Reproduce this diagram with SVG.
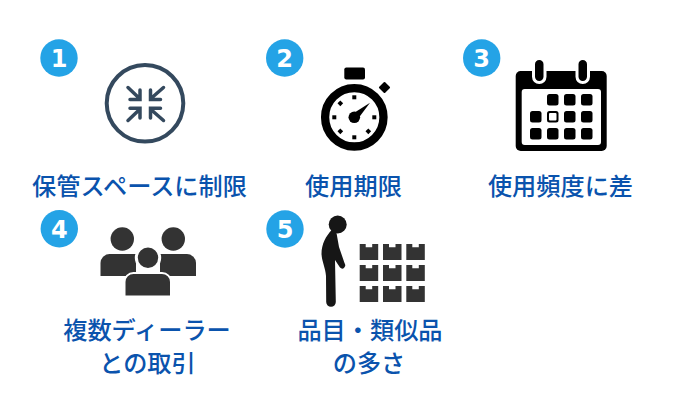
<svg xmlns="http://www.w3.org/2000/svg" width="680" height="400" viewBox="0 0 680 400">
<style>
.b{fill:#24a3e6}
.n{font-family:"DejaVu Sans","Liberation Sans",sans-serif;font-weight:700;font-size:24px;fill:#fff;text-anchor:middle}
.t{font-family:"Noto Sans CJK JP","Noto Sans",sans-serif;font-weight:500;font-size:24.200px;fill:#0a53ad;text-anchor:middle}
.a{fill:none;stroke:#34495e;stroke-width:3.500;stroke-linecap:round;stroke-linejoin:miter}
.d{fill:#333}
.k{fill:#000}
</style>
<rect width="680" height="400" fill="#fff"/>
<g id="node-1">
<circle class="b" cx="59" cy="58" r="18.700"/><text class="n" x="59" y="67">1</text>
<circle cx="145" cy="103.300" r="38.300" fill="none" stroke="#34495e" stroke-width="4"/>
<g class="a">
<path d="M128 87.500L139 98M130 99.500H140V90"/>
<path d="M163.500 87.500L151.500 98M160.500 99.500H150.500V90"/>
<path d="M128 120.500L139 110M130 108.300H140V118"/>
<path d="M163.500 120.500L151.500 110M160.500 108.300H150.500V118"/>
</g>
<text class="t" x="139.500" y="195">保管スペースに制限</text>
</g>
<g id="node-2">
<circle class="b" cx="284.700" cy="58" r="18.700"/><text class="n" x="284.700" y="67">2</text>
<rect class="k" x="344.300" y="67.500" width="20.700" height="12" rx="2"/>
<rect class="k" x="380.300" y="83.300" width="8.400" height="8.400" rx="1" transform="rotate(45 384.500 87.500)"/>
<circle cx="354.300" cy="117.300" r="29.200" fill="#fff" stroke="#000" stroke-width="8.300"/>
<g class="k">
<rect x="352.300" y="95.300" width="4" height="4"/><rect x="352.300" y="135.300" width="4" height="4"/>
<rect x="332.300" y="115.300" width="4" height="4"/><rect x="372.300" y="115.300" width="4" height="4"/>
<rect x="338.300" y="101.300" width="4" height="4" transform="rotate(45 340.300 103.300)"/><rect x="366.300" y="129.300" width="4" height="4" transform="rotate(45 368.300 131.300)"/>
<rect x="338.300" y="129.300" width="4" height="4" transform="rotate(45 340.300 131.300)"/>
<circle cx="354.300" cy="117.300" r="5.800"/>
<path d="M351.500 114.500L370 102.700L357.100 120.100Z"/>
</g>
<text class="t" x="353.500" y="195">使用期限</text>
</g>
<g id="node-3">
<circle class="b" cx="481.700" cy="58" r="18.700"/><text class="n" x="481.700" y="67">3</text>
<rect class="k" x="515.700" y="71" width="91" height="80" rx="5"/>
<rect x="521.700" y="89" width="79.300" height="56" rx="3" fill="#fff"/>
<g class="k" stroke="#fff" stroke-width="3">
<rect x="533.500" y="58.500" width="11.500" height="24" rx="5.700"/>
<rect x="577" y="58.500" width="11.500" height="24" rx="5.700"/>
</g>
<g class="k">
<rect x="547" y="94" width="11.500" height="11.500" rx="2.500"/><rect x="564" y="94" width="11.500" height="11.500" rx="2.500"/><rect x="581" y="94" width="11.500" height="11.500" rx="2.500"/>
<rect x="530" y="111" width="11.500" height="11.500" rx="2.500"/><rect x="547" y="111" width="11.500" height="11.500" rx="2.500"/><rect x="564" y="111" width="11.500" height="11.500" rx="2.500"/><rect x="581" y="111" width="11.500" height="11.500" rx="2.500"/>
<rect x="530" y="128" width="11.500" height="11.500" rx="2.500"/><rect x="547" y="128" width="11.500" height="11.500" rx="2.500"/><rect x="564" y="128" width="11.500" height="11.500" rx="2.500"/><rect x="581" y="128" width="11.500" height="11.500" rx="2.500"/>
</g>
<rect x="549" y="113" width="7.500" height="7.500" rx="1" fill="#fff"/>
<text class="t" x="560.500" y="195">使用頻度に差</text>
</g>
<g id="node-4">
<circle class="b" cx="59.300" cy="228.700" r="18.700"/><text class="n" x="59.300" y="237.700">4</text>
<g class="d">
<circle cx="122.300" cy="239" r="11.700"/><circle cx="173.300" cy="239" r="11.700"/>
<path d="M100.500 276V263a9 9 0 0 1 9-9H136V276Z"/>
<path d="M196 276V263a9 9 0 0 0-9-9H160V276Z"/>
<circle cx="148" cy="257.700" r="11.700" stroke="#fff" stroke-width="3"/>
<path d="M124.500 296.500V282a9 9 0 0 1 9-9H162a9 9 0 0 1 9 9V296.500Z" stroke="#fff" stroke-width="2"/>
</g>
<text class="t" x="147" y="339">複数ディーラー</text>
<text class="t" x="147.500" y="372">との取引</text>
</g>
<g id="node-5">
<circle class="b" cx="285" cy="229" r="18.700"/><text class="n" x="285" y="238">5</text>
<g fill="#161616">
<circle cx="337.700" cy="224.500" r="9"/>
<path d="M331.700 230C326 236 321.500 244 321.500 254C322 262 325.500 268 326 276L326.200 302A4.700 4.700 0 0 0 335.800 302L335 260L340 267.500Q342 269.500 344 268L345.200 266Q345.500 264.500 344.500 263L339 247L336.500 233Z"/>
</g>
<g class="d">
<path d="M359.700 244h6v3.300h6.500v-3.300h6v16h-18.500Z"/>
<path d="M383 244h6v3.300h6.500v-3.300h6v16H383Z"/>
<path d="M406.300 244h6v3.300h6.500v-3.300h6v16h-18.500Z"/>
<path d="M359.700 265h6v3.300h6.500v-3.300h6v16h-18.500Z"/>
<path d="M383 265h6v3.300h6.500v-3.300h6v16H383Z"/>
<path d="M406.300 265h6v3.300h6.500v-3.300h6v16h-18.500Z"/>
<path d="M359.700 286h6v3.300h6.500v-3.300h6v16h-18.500Z"/>
<path d="M383 286h6v3.300h6.500v-3.300h6v16H383Z"/>
<path d="M406.300 286h6v3.300h6.500v-3.300h6v16h-18.500Z"/>
</g>
<text class="t" x="370" y="339">品目・類似品</text>
<text class="t" x="369" y="372">の多さ</text>
</g>
</svg>
